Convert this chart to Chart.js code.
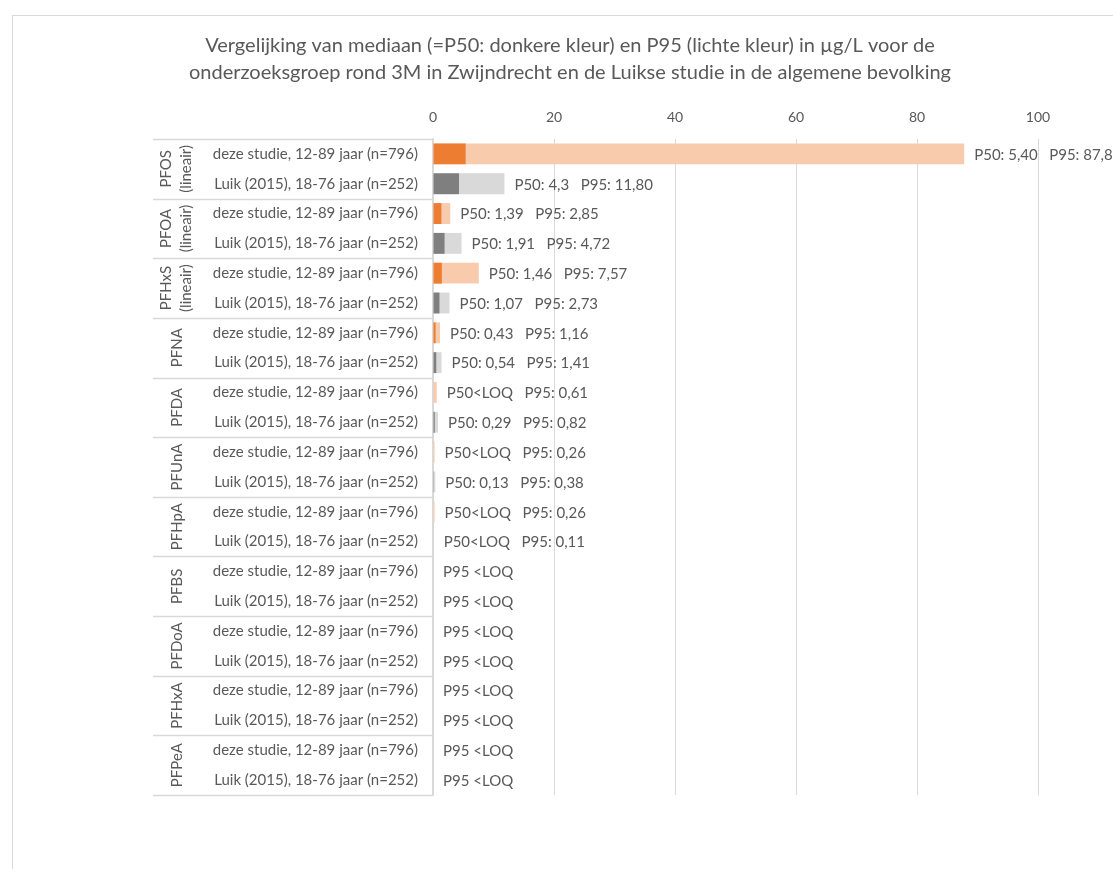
<!DOCTYPE html>
<html lang="nl">
<head>
<meta charset="utf-8">
<title>PFAS mediaan en P95</title>
<script src="https://cdn.jsdelivr.net/npm/chart.js@4.4.1/dist/chart.umd.min.js"></script>
<style>
  html, body { margin: 0; padding: 0; background: #ffffff; overflow: hidden; }
  #frame {
    position: absolute; left: 12px; top: 15px;
    width: 1114px; height: 870px;
    border: 1px solid #D9D9D9; box-sizing: border-box; background: #fff;
  }
  #wrap { position: absolute; left: 0; top: 0; width: 1112px; height: 850px; }
</style>
</head>
<body>
<div id="frame"><div id="wrap"><canvas id="chart"></canvas></div></div>
<script>
// Stoffen (groepen) en de twee populaties per stof
const compounds = ['PFOS', 'PFOA', 'PFHxS', 'PFNA', 'PFDA', 'PFUnA', 'PFHpA', 'PFBS', 'PFDoA', 'PFHxA', 'PFPeA'];
const compoundNotes = ['(lineair)', '(lineair)', '(lineair)', '', '', '', '', '', '', '', ''];
const populations = ['deze studie, 12-89 jaar (n=796)', 'Luik (2015), 18-76 jaar (n=252)'];

// Waarden in µg/L (null = onder de LOQ), per stof: [deze studie, Luik]
const p50Values = [
  '5,40', '4,3',
  '1,39', '1,91',
  '1,46', '1,07',
  '0,43', '0,54',
  null,   '0,29',
  null,   '0,13',
  null,   null,
  null,   null,
  null,   null,
  null,   null,
  null,   null
];
const p95Values = [
  '87,8', '11,80',
  '2,85', '4,72',
  '7,57', '2,73',
  '1,16', '1,41',
  '0,61', '0,82',
  '0,26', '0,38',
  '0,26', '0,11',
  null,   null,
  null,   null,
  null,   null,
  null,   null
];
const xTicks = [0, 20, 40, 60, 80, 100];

const titleLines = [
  'Vergelijking van mediaan (=P50: donkere kleur) en P95 (lichte kleur) in µg/L voor de',
  'onderzoeksgroep rond 3M in Zwijndrecht en de Luikse studie in de algemene bevolking'
];

const FONT = 'Lato, "Open Sans", sans-serif';
const TEXT = '#595959';
const LINE = '#D9D9D9';

const toNum = s => (s === null ? null : parseFloat(s.replace(',', '.')));
const rowLabels = compounds.flatMap(() => populations);
const p50 = p50Values.map(toNum);
const p95 = p95Values.map(toNum);

const darkColors = rowLabels.map((_, i) => (i % 2 === 0 ? '#ED7D31' : '#7F7F7F'));
const lightColors = rowLabels.map((_, i) => (i % 2 === 0 ? '#F8CBAD' : '#D9D9D9'));

// Titel in twee regels, gecentreerd over de volle breedte van het canvas
const chartTitle = {
  id: 'chartTitle',
  afterDraw(chart) {
    const { ctx, width } = chart;
    ctx.save();
    ctx.font = '20px ' + FONT;
    ctx.fillStyle = TEXT;
    ctx.textAlign = 'center';
    ctx.textBaseline = 'middle';
    titleLines.forEach((line, k) => ctx.fillText(line, width / 2 + 1, 30 + k * 27));
    ctx.restore();
  }
};

// Labels rechts van elke balk: "P50: x  P95: y"
const valueLabels = {
  id: 'valueLabels',
  afterDatasetsDraw(chart) {
    const { ctx } = chart;
    const xs = chart.scales.x, ys = chart.scales.y;
    ctx.save();
    ctx.font = '15px ' + FONT;
    ctx.fillStyle = TEXT;
    ctx.textAlign = 'left';
    ctx.textBaseline = 'middle';
    rowLabels.forEach((_, i) => {
      let text;
      if (p95Values[i] === null) {
        text = 'P95 <LOQ';
      } else {
        const a = p50Values[i] === null ? 'P50<LOQ' : 'P50: ' + p50Values[i];
        text = a + '   P95: ' + p95Values[i];
      }
      const end = p95[i] === null ? 0 : p95[i];
      ctx.fillText(text, xs.getPixelForValue(end) + 10, ys.getPixelForValue(i) + 1);
    });
    ctx.restore();
  }
};

// Stofnamen (verticaal) en scheidingslijnen tussen de groepen in de categorie-as
const groupAxis = {
  id: 'groupAxis',
  afterDraw(chart) {
    const { ctx, chartArea } = chart;
    const ys = chart.scales.y;
    const lineLeft = 140;
    ctx.save();
    ctx.strokeStyle = LINE;
    ctx.lineWidth = 1.5;
    for (let g = 0; g <= compounds.length; g++) {
      const y = Math.round(ys.getPixelForValue(2 * g - 0.5)) + 0.5;
      ctx.beginPath();
      ctx.moveTo(lineLeft, y);
      ctx.lineTo(chartArea.left, y);
      ctx.stroke();
    }
    ctx.font = '15px ' + FONT;
    ctx.fillStyle = TEXT;
    ctx.textAlign = 'center';
    ctx.textBaseline = 'middle';
    compounds.forEach((name, g) => {
      const cy = (ys.getPixelForValue(2 * g) + ys.getPixelForValue(2 * g + 1)) / 2;
      const cx = 163;
      ctx.save();
      ctx.translate(cx, cy);
      ctx.rotate(-Math.PI / 2);
      if (compoundNotes[g]) {
        ctx.fillText(name, 0, -10);
        ctx.fillText(compoundNotes[g], 0, 10);
      } else {
        ctx.fillText(name, 0, 1);
      }
      ctx.restore();
    });
    ctx.restore();
  }
};

new Chart(document.getElementById('chart'), {
  type: 'bar',
  data: {
    labels: rowLabels,
    datasets: [
      {
        label: 'P50',
        data: p50,
        backgroundColor: darkColors,
        order: 1,
        grouped: false,
        barPercentage: 0.7,
        categoryPercentage: 1
      },
      {
        label: 'P95',
        data: p95,
        backgroundColor: lightColors,
        order: 2,
        grouped: false,
        barPercentage: 0.7,
        categoryPercentage: 1
      }
    ]
  },
  options: {
    indexAxis: 'y',
    responsive: true,
    maintainAspectRatio: false,
    animation: false,
    layout: { padding: { left: 0, right: 87, top: 68, bottom: 71 } },
    plugins: {
      legend: { display: false },
      tooltip: { enabled: false },
      title: { display: false }
    },
    scales: {
      x: {
        position: 'top',
        min: 0,
        max: 100,
        afterBuildTicks(scale) { scale.ticks = xTicks.map(v => ({ value: v })); },
        afterFit(scale) { scale.height = 55; },
        ticks: { color: TEXT, font: { family: FONT, size: 14 }, padding: 13 },
        grid: { color: LINE, drawTicks: false, lineWidth: 1 },
        border: { display: false }
      },
      y: {
        type: 'category',
        offset: true,
        afterFit(scale) { scale.width = 420; },
        ticks: { color: TEXT, font: { family: FONT, size: 15 }, padding: 15, autoSkip: false },
        grid: { display: false, drawTicks: false },
        border: { display: true, color: LINE, width: 1.5 }
      }
    }
  },
  plugins: [valueLabels, groupAxis, chartTitle]
});
</script>
</body>
</html>
